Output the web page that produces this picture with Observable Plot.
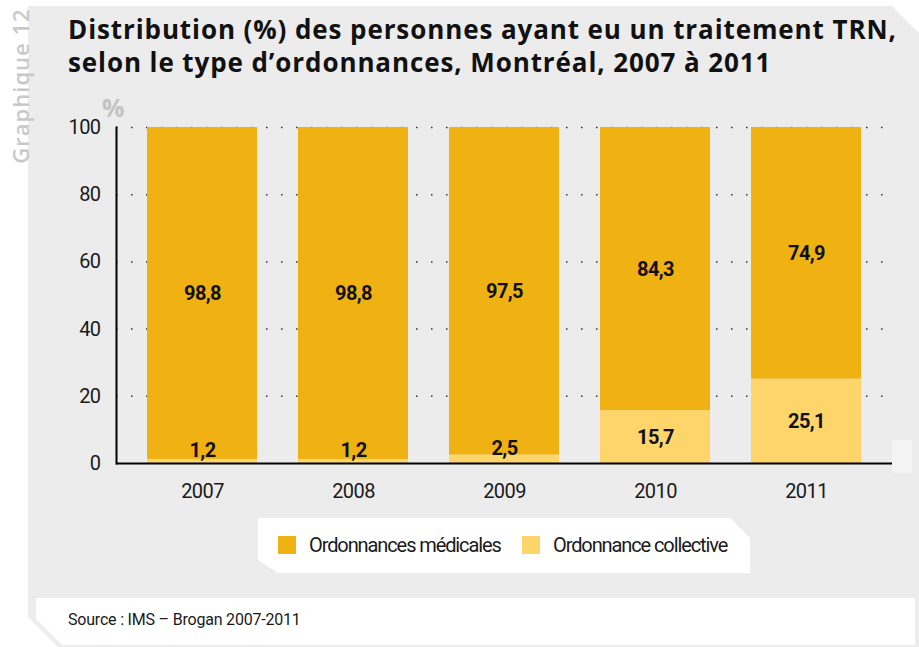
<!DOCTYPE html>
<html><head><meta charset="utf-8">
<script src="https://cdn.jsdelivr.net/npm/d3@7"></script>
<script src="https://cdn.jsdelivr.net/npm/@observablehq/plot@0.6"></script>
<style>
html,body{margin:0;padding:0;background:#fff;}
#wrap{position:relative;width:919px;height:647px;overflow:hidden;font-family:Roboto,sans-serif;}
#panel{position:absolute;left:0;top:0;width:919px;height:647px;background:#ececec;
 clip-path:polygon(28px 6px,892px 6px,919px 33px,919px 647px,58px 647px,28px 617px);}
#patch{position:absolute;left:892px;top:440px;width:20px;height:33px;background:#f3f3f3;}
#vlabel{position:absolute;left:20px;top:86px;transform:translate(-50%,-50%) rotate(-90deg);white-space:nowrap;
 font-family:"Open Sans",sans-serif;font-weight:600;font-size:22px;color:#c9c9c9;letter-spacing:1px;}
#title{position:absolute;left:68px;top:13px;font-family:"Open Sans",sans-serif;font-weight:700;font-size:26px;line-height:33px;color:#111;letter-spacing:0.9px;white-space:nowrap;}
#pct{position:absolute;left:102px;top:90px;font-family:"Open Sans",sans-serif;font-weight:700;font-size:25px;color:#c3c3c3;}
#chart{position:absolute;left:28px;top:90px;}
#legend{position:absolute;left:258px;top:518px;width:492px;height:55px;background:#fff;
 clip-path:polygon(0 0,472px 0,492px 20px,492px 55px,20px 55px,0 42px);}
.item{position:absolute;top:14px;font-size:20px;color:#1a1a1a;line-height:26px;white-space:nowrap;letter-spacing:-1.1px;}
.sw{display:inline-block;width:18px;height:18px;vertical-align:-2px;margin-right:13px;}
#source{position:absolute;left:36px;top:598px;width:879px;height:47px;background:#fff;
 clip-path:polygon(0 0,879px 0,879px 47px,26px 47px,0 21px);}
#source span{position:absolute;left:32px;top:12px;font-size:16px;color:#1a1a1a;letter-spacing:-0.2px;}
</style></head>
<body><div id="wrap">
<div id="panel"></div>
<div id="patch"></div>
<div id="vlabel">Graphique 12</div>
<div id="title">Distribution (%) des personnes ayant eu un traitement TRN,<br>selon le type d’ordonnances, Montréal, 2007 à 2011</div>
<div id="pct">%</div>
<div id="chart"></div>
<div id="legend"></div>
<div id="source"><span>Source : IMS – Brogan 2007-2011</span></div>
</div>
<script>
const years = ["2007","2008","2009","2010","2011"];
const medicales = [98.8, 98.8, 97.5, 84.3, 74.9];
const collective = [1.2, 1.2, 2.5, 15.7, 25.1];
const series = ["Ordonnances médicales","Ordonnance collective"];
const colors = ["#f0b213","#fed56a"];
const yTicks = [0,20,40,60,80,100];

const data = [];
years.forEach((y,i)=>{
  data.push({year:y, type:series[1], value:collective[i]});
  data.push({year:y, type:series[0], value:medicales[i]});
});
const order = [series[1], series[0]];
const fmt = v => v.toFixed(1).replace(".", ",");

const chart = Plot.plot({
  width: 891, height: 420,
  marginLeft: 88, marginRight: 27, marginTop: 37, marginBottom: 47,
  style: {background:"transparent", fontFamily: "Roboto, sans-serif", fontSize:"20px", color:"#1a1a1a", letterSpacing:"-0.6px"},
  x: {domain: years, paddingInner: 0.2715, paddingOuter: 0.205, label: null},
  y: {domain: [0,100], ticks: yTicks, label: null},
  color: {domain: series, range: colors},
  marks: [
    Plot.gridY(yTicks.filter(t=>t>0), {stroke:"#333", strokeOpacity:1, strokeWidth:1.5, strokeDasharray:"1.5,13.5"}),
    Plot.barY(data, {x:"year", y:"value", fill:"type", order}),
    Plot.ruleY([0], {stroke:"#000", strokeWidth:2}),
    Plot.frame({anchor:"left", stroke:"#000", strokeWidth:2}),
    Plot.axisY({ticks: yTicks, tickSize:0, tickPadding:16, fontSize:20, fill:"#1a1a1a"}),
    Plot.axisX({tickSize:0, tickPadding:20, fontSize:20, fill:"#1a1a1a"}),
    Plot.text(data, Plot.stackY({x:"year", y:"value", z:"type", order,
      text: d => d.value >= 5 ? fmt(d.value) : "", fontWeight:"bold", fontSize:20, fill:"#111"})),
    Plot.text(data, Plot.stackY({x:"year", y:"value", z:"type", order,
      text: d => d.value < 5 ? fmt(d.value) : "", fontWeight:"bold", fontSize:20, fill:"#111", dy:-11}))
  ]
});
document.getElementById("chart").appendChild(chart);

const leg = document.getElementById("legend");
const xs = [20, 264];
series.forEach((s,i)=>{
  const it = document.createElement("div");
  it.className = "item";
  it.style.left = xs[i] + "px";
  it.innerHTML = `<span class="sw" style="background:${colors[i]}"></span>${s}`;
  leg.appendChild(it);
});
</script>
</body></html>
